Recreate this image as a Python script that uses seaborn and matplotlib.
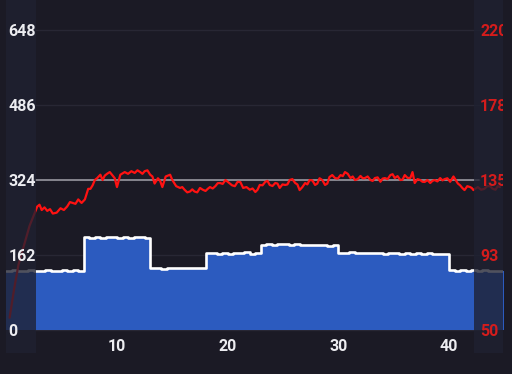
import numpy as np
import pandas as pd
import seaborn as sns
import matplotlib.pyplot as plt
import matplotlib.transforms as mtransforms

# power (W), one sample every 30 s, x in minutes
power = [128, 129, 127, 128, 129, 127, 127, 129, 128, 127, 129, 128, 129, 128,
         200, 199, 201, 198, 200, 201, 199, 200, 198, 201, 200, 199,
         133, 134, 132, 134, 135, 133, 134, 133, 134, 133,
         166, 167, 165, 167, 165, 167, 166, 168, 165, 167,
         184, 185, 183, 186, 185, 183, 185, 184, 183, 184, 183, 184, 182, 183,
         167, 166, 168, 167, 166, 167, 166, 167, 165, 166, 167, 165, 166, 164,
         166, 165, 166, 165, 164, 165,
         129, 128, 130, 127, 129, 128, 129, 127, 128, 128, 129]

# heart rate (bpm)
hr_time = [0.3, 0.7, 1.1, 1.6, 2.1, 2.8, 3.0, 3.2, 3.45, 3.7, 3.95, 4.2,
           4.55, 4.9, 5.2, 5.5, 5.75, 6.0, 6.25, 6.5, 6.8, 7.1, 7.4, 7.6,
           7.8, 8.0, 8.2, 8.5, 8.7, 8.9, 9.1, 9.35, 9.6, 9.8, 10.0, 10.3,
           10.7, 11.0, 11.3, 11.6, 11.85, 12.1, 12.3, 12.5, 12.75, 13.0, 13.2, 13.4,
           13.7, 13.9, 14.1, 14.4, 14.8, 15.0, 15.35, 15.7, 15.9, 16.1, 16.35, 16.6,
           16.8, 17.0, 17.25, 17.5, 17.75, 18.0, 18.2, 18.4, 18.65, 18.9, 19.1, 19.3,
           19.55, 19.8, 20.1, 20.4, 20.65, 20.9, 21.15, 21.4, 21.7, 22.0, 22.25, 22.5,
           22.7, 22.9, 23.15, 23.4, 23.6, 23.8, 24.05, 24.3, 24.5, 24.7, 24.95, 25.2,
           25.4, 25.6, 25.85, 26.1, 26.3, 26.5, 26.75, 27.0, 27.2, 27.4, 27.65, 27.9,
           28.1, 28.3, 28.55, 28.8, 29.0, 29.2, 29.45, 29.7, 29.95, 30.2, 30.4, 30.6,
           30.85, 31.1, 31.3, 31.5, 31.75, 32.0, 32.2, 32.4, 32.65, 32.9, 33.1, 33.3,
           33.55, 33.8, 34.0, 34.2, 34.45, 34.7, 34.9, 35.1, 35.35, 35.6, 35.8, 36.0,
           36.25, 36.5, 36.7, 36.9, 37.15, 37.4, 37.6, 37.8, 38.05, 38.3, 38.5, 38.7,
           38.95, 39.2, 39.4, 39.6, 39.85, 40.1, 40.4, 40.8, 41.0, 41.2, 41.4, 41.65,
           41.9, 42.05, 42.2, 42.6, 42.9, 43.2, 43.45, 43.7, 43.95, 44.2, 44.4, 44.6]
hr = [57, 73, 87, 98, 109, 120, 121, 118, 119.5, 117.5, 118.5, 116,
      116.5, 119, 118, 120, 122.5, 122, 121.5, 124, 122, 124, 130, 130,
      132, 135, 136, 138, 135, 137.5, 138.5, 139.5, 137.5, 136, 131, 138,
      139.5, 138.5, 140, 139, 140.5, 139.5, 138.5, 140, 140.5, 138, 137, 133,
      136, 134.5, 131, 137, 138, 135, 131.5, 130.5, 131, 129.5, 128, 128.5,
      129.7, 128.5, 128, 130.5, 129.5, 128.8, 130, 131, 130.2, 131.6, 133.2, 133.3,
      132.8, 135, 133.5, 132, 131.5, 134, 133.8, 130.5, 131, 129.5, 130.2, 128.2,
      129.5, 132.2, 132, 134, 134.5, 132.2, 131.6, 133.3, 133, 130.5, 132.5, 132.2,
      132.5, 135, 135.5, 133.3, 132.5, 129.3, 131, 133.3, 132.5, 135, 134.8, 132.2,
      133, 136, 135, 132.2, 133, 136.7, 137.8, 136.1, 135.8, 137.8, 137.2, 139.5,
      138.5, 136.1, 137, 135, 135.5, 137.3, 136, 136.1, 137, 135, 134.5, 136.1,
      136.5, 134, 135.8, 136.1, 135.5, 137.8, 138.3, 136.1, 137.2, 135, 135.2, 137.8,
      136.2, 136.1, 139.5, 133.3, 135.5, 135, 134, 133.9, 135, 133.3, 134.5, 135,
      134.2, 136.1, 134.8, 135.5, 136, 134, 137, 133, 132, 130.5, 129.3, 131.5,
      131, 130.5, 129.3, 131, 129.5, 130, 131.5, 131.5, 130, 129.5, 131.5, 131]

sel_start, sel_end = 2.7, 42.3
left_ticks = [0, 162, 324, 486, 648]
right_labels = ["50", "93", "135", "178", "220"]
x_ticks = [10, 20, 30, 40]

pw = pd.DataFrame({"t": np.arange(len(power)) * 0.5, "w": power})
hrd = pd.DataFrame({"t": hr_time, "bpm": hr})

sns.set_theme(style="dark")
plt.rcParams["font.family"] = ["Roboto", "DejaVu Sans"]

bg = "#1b1a25"
fig = plt.figure(figsize=(5.12, 3.74), dpi=100, facecolor=bg)
ax = fig.add_axes([0.0123, 0.0561, 0.970, 0.9439])
ax.set_facecolor(bg)
ax2 = ax.twinx()

# grid lines
for v in left_ticks:
    ax.axhline(v, 0.058, 0.954, color="#282734", lw=1, zorder=1)
ax.axhline(324, 0.058, 0.952, color="#8e8e96", lw=1.3, zorder=4)

# power area + line
ax.fill_between(pw["t"], pw["w"], step="post", color="#2c5bbf", lw=0, zorder=2)
sns.lineplot(data=pw, x="t", y="w", drawstyle="steps-post", color="white",
             lw=1.9, ax=ax, zorder=3)

# heart rate
sns.lineplot(data=hrd, x="t", y="bpm", color="#ff1212", lw=1.6, ax=ax2, zorder=3)

# dim the parts outside the selection
ax2.axvspan(0, sel_start, color="#1f2131", alpha=0.78, lw=0, zorder=5)
ax2.axvspan(sel_end, 45, color="#1f2131", alpha=0.78, lw=0, zorder=5)

ax.set_xlim(0, 44.87)
ax.set_ylim(-49.7, 712.8)
ax2.set_ylim(36.97, 237.0)

ax.set_xticks(x_ticks)
ax.set_yticks([])
ax2.set_yticks([])
for a in (ax, ax2):
    a.set_xlabel("")
    a.set_ylabel("")
    for s in a.spines.values():
        s.set_visible(False)
ax.spines["bottom"].set_position(("data", 0))
ax.tick_params(axis="x", direction="out", length=3.6, width=1, color="#9a9aa5",
               labelcolor="#ececf0", labelsize=11.5, pad=3)
for lab in ax.get_xticklabels():
    lab.set_fontweight("bold")

trans = mtransforms.blended_transform_factory(ax.transAxes, ax.transData)
for v in left_ticks:
    ax2.text(0.004, v, str(v), transform=trans, ha="left", va="center_baseline",
             color="#ececf0", fontsize=11.5, fontweight="bold", zorder=10)
for v, lab in zip(left_ticks, right_labels):
    ax2.text(0.954, v, lab, transform=trans, ha="left", va="center_baseline",
             color="#d41c1c", fontsize=11.5, fontweight="bold", zorder=10,
             clip_on=True)

fig.savefig("out.png", dpi=100, facecolor=bg)
